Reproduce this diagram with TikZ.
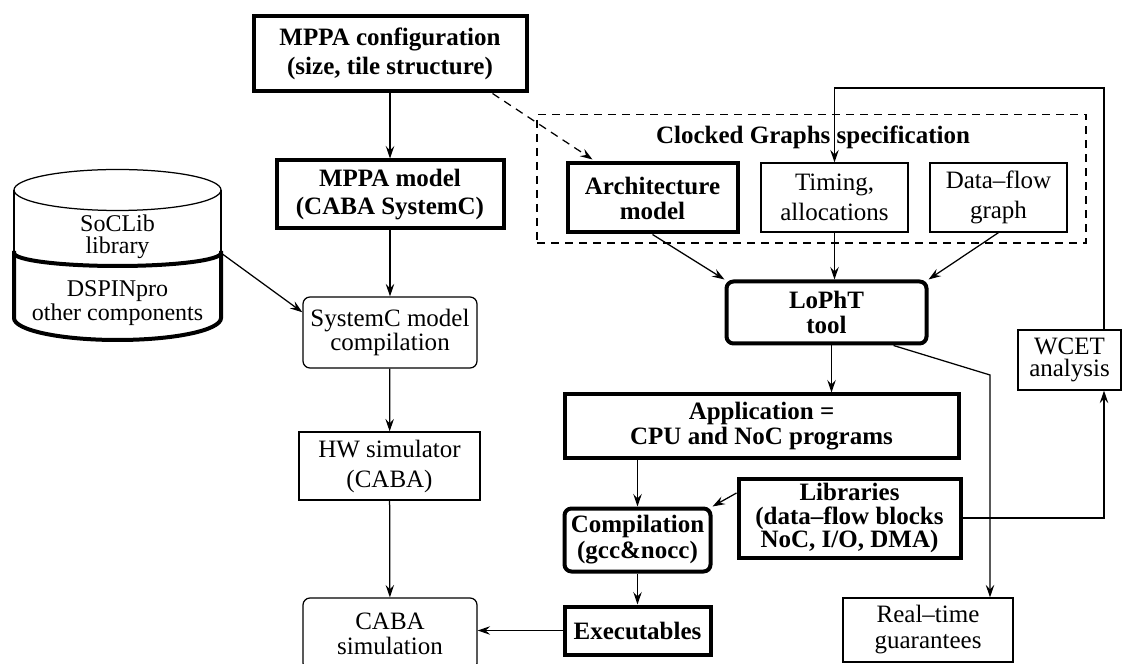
\documentclass[tikz,border=0pt]{standalone}
\usepackage{fontspec}
\setmainfont{Liberation Serif}
\usetikzlibrary{arrows.meta,calc}
\tikzset{
  thinbox/.style={draw, line width=0.5pt, inner sep=0pt, align=center},
  thickbox/.style={draw, line width=1.6pt, inner sep=0pt, align=center},
  rnd/.style={rounded corners=2.8pt},
  arr/.style={-{Stealth[length=5pt,width=3.4pt,inset=1.8pt]}, line width=0.5pt},
  ln/.style={line width=0.5pt},
  fn/.style={font=\fontsize{10}{#1}\selectfont},
  fsm/.style={font=\fontsize{9.6}{#1}\selectfont},
  fbd/.style={font=\fontsize{10}{#1}\selectfont\bfseries},
  dsh/.style={dash pattern=on 3.2pt off 2.4pt, line width=0.5pt},
}
\begin{document}
\begin{tikzpicture}[x=0.4pt,y=-0.4pt]
\useasboundingbox (0,0) rectangle (1123,664);
% left column
\node[thickbox, fbd=11.6pt, minimum width=109.2pt, minimum height=30pt] (cfg) at (390,54) {MPPA configuration\\(size, tile structure)};
\node[thickbox, fbd=11.2pt, minimum width=90.8pt, minimum height=27.2pt] (model) at (390,194.5) {MPPA model\\(CABA SystemC)};
\node[thinbox, rnd, fn=9.4pt, minimum width=69.6pt, minimum height=28.4pt] (scc) at (390,332.5) {SystemC model\\compilation};
\node[thinbox, fn=12pt, minimum width=72.4pt, minimum height=27.2pt] (hw) at (389.5,466) {HW simulator\\(CABA)};
\node[thinbox, rnd, fn=10pt, minimum width=69.6pt, minimum height=28.8pt] (caba) at (390,634) {CABA\\simulation};
% cylinder
\coordinate (cyl) at (221,253);
\draw[ln] (117.5,190) ellipse [x radius=103.5, y radius=20.5];
\draw[ln] (14,190) -- (14,253) (221,190) -- (221,253);
\draw[line width=1.6pt] (14,253) arc[start angle=180, end angle=0, x radius=103.5, y radius=13];
\draw[line width=1.6pt] (14,251) -- (14,318) arc[start angle=180, end angle=0, x radius=103.5, y radius=22] -- (221,251);
\node[fsm=8.8pt, align=center, inner sep=0pt] (soclib) at (117.5,237) {SoCLib\\library};
\node[fsm=8.4pt, align=center, inner sep=0pt] (dspin) at (117.5,303) {DSPINpro\\other components};
% clocked graphs
\node[draw, dsh, minimum width=219.6pt, minimum height=51.4pt, inner sep=0pt] (cg) at (811.5,178.75) {};
\node[fbd=10pt, inner sep=0pt] (cgt) at (813,137) {Clocked Graphs specification};
\node[thickbox, fbd=10pt, minimum width=68pt, minimum height=27.6pt] (arch) at (652.5,198) {Architecture\\model};
\node[thinbox, fn=12pt, minimum width=58.8pt, minimum height=27.6pt] (timing) at (834.5,197.5) {Timing,\\allocations};
\node[thinbox, fn=12pt, minimum width=54.8pt, minimum height=27.6pt] (dflow) at (998.5,197.5) {Data--flow\\graph};
% right part
\node[thickbox, rnd, fbd=10pt, minimum width=80pt, minimum height=24.8pt] (lopht) at (826.5,312.5) {LoPhT\\tool};
\node[thickbox, fbd=10pt, minimum width=157.6pt, minimum height=25.2pt] (app) at (761.5,426) {Application =\\CPU and NoC programs};
\node[thickbox, rnd, fbd=10.4pt, minimum width=58.4pt, minimum height=25.2pt] (comp) at (637.5,540) {Compilation\\(gcc\&nocc)};
\node[thickbox, fbd=10pt, minimum width=58.4pt, minimum height=19.2pt] (exe) at (637.5,630.5) {Executables};
\node[thickbox, fbd=9.4pt, minimum width=88.8pt, minimum height=31.6pt] (lib) at (849.5,518) {Libraries\\(data--flow blocks\\NoC, I/O, DMA)};
\node[thinbox, fn=9pt, minimum width=41.2pt, minimum height=24pt] (wcet) at (1069.5,360) {WCET\\analysis};
\node[thinbox, fn=10.4pt, minimum width=68pt, minimum height=25.6pt] (rt) at (928,630) {Real--time\\guarantees};
% connectors
\draw[arr] (cfg) -- (model);
\draw[arr] (model) -- (scc);
\draw[arr] (scc) -- (hw);
\draw[arr] (hw) -- (caba);
\draw[arr] (cyl) -- (scc.167);
\draw[arr, dsh] ($(cfg.south east)+(-36,0)$) -- ($(arch.north west)+(27,-2)$);
\draw[arr] (arch.south) -- (lopht.north west);
\draw[arr] (timing.south) -- (timing.south |- lopht.north);
\draw[arr] (dflow.south) -- (lopht.north east);
\draw[arr] ($(lopht.south)+(5,0)$) -- ($(lopht.south |- app.north)+(5,0)$);
\coordinate (rtbend) at (990,375);
\draw[arr] ($(lopht.south east)+(-35,0)$) -- (rtbend) -- (rtbend |- rt.north);
\draw[arr] (comp.north |- app.south) -- (comp.north);
\draw[arr] ($(lib.west)+(0,-25)$) -- (comp.north east);
\draw[arr] (comp) -- (exe);
\draw[arr] (exe.west) -- (exe.west -| caba.east);
\coordinate (fbtop) at (1104,88);
\draw[arr] (lib.east) -| (fbtop |- wcet.south);
\draw[arr] (fbtop |- wcet.north) -- (fbtop) -| (timing.north);
\end{tikzpicture}
\end{document}
